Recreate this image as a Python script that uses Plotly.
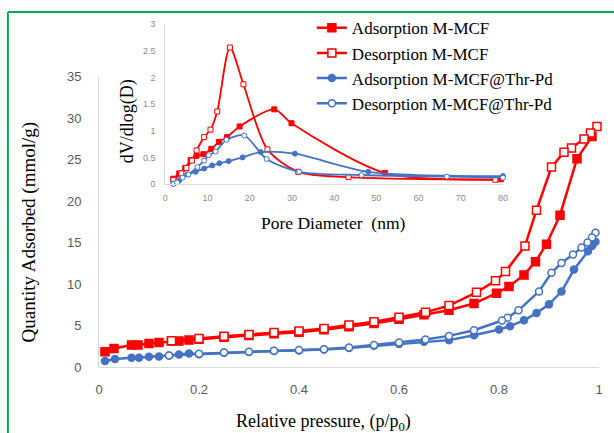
import plotly.graph_objects as go

# ---- Isotherm data: relative pressure (p/p0) vs quantity adsorbed (mmol/g) ----
p_ads_mcf = [0.012, 0.03, 0.065, 0.078, 0.10, 0.12, 0.145, 0.16, 0.18, 0.20, 0.25, 0.30, 0.35,
             0.40, 0.45, 0.50, 0.55, 0.60, 0.65, 0.70, 0.75, 0.795, 0.82, 0.85, 0.873, 0.895,
             0.922, 0.956, 0.986]
q_ads_mcf = [1.83, 2.24, 2.64, 2.64, 2.84, 2.96, 3.12, 3.12, 3.24, 3.35, 3.6, 3.8, 4.0,
             4.2, 4.5, 4.85, 5.25, 5.76, 6.3, 6.85, 7.65, 8.9, 9.7, 11.1, 12.7, 14.8,
             18.3, 25.1, 27.8]

p_des_mcf = [0.996, 0.983, 0.97, 0.945, 0.93, 0.905, 0.875, 0.852, 0.813, 0.793, 0.755, 0.70,
             0.653, 0.60, 0.55, 0.50, 0.45, 0.40, 0.35, 0.30, 0.25, 0.20, 0.145]
q_des_mcf = [29.0, 28.2, 27.5, 26.4, 25.9, 24.1, 18.9, 14.6, 11.5, 10.4, 9.0, 7.4,
             6.6, 6.0, 5.45, 5.05, 4.65, 4.35, 4.15, 3.92, 3.72, 3.44, 3.15]

p_ads_pd = [0.012, 0.032, 0.065, 0.08, 0.10, 0.12, 0.14, 0.16, 0.18, 0.20, 0.25, 0.30, 0.35,
            0.40, 0.45, 0.50, 0.55, 0.60, 0.65, 0.70, 0.75, 0.80, 0.822, 0.85, 0.875, 0.90,
            0.925, 0.95, 0.978, 0.986, 0.993]
q_ads_pd = [0.72, 0.96, 1.12, 1.12, 1.24, 1.28, 1.38, 1.52, 1.64, 1.55, 1.72, 1.8, 1.92,
            2.0, 2.12, 2.3, 2.55, 2.76, 3.04, 3.24, 3.84, 4.52, 4.92, 5.63, 6.5, 7.55,
            9.1, 11.75, 13.95, 14.6, 15.1]

p_des_pd = [0.993, 0.986, 0.977, 0.965, 0.948, 0.925, 0.905, 0.88, 0.839, 0.817, 0.806, 0.75,
            0.70, 0.653, 0.60, 0.55, 0.50, 0.45, 0.40, 0.35, 0.30, 0.25, 0.20, 0.14]
q_des_pd = [16.2, 15.6, 15.0, 14.4, 13.55, 12.55, 11.35, 9.1, 6.83, 5.95, 5.6, 4.44,
            3.75, 3.32, 2.96, 2.64, 2.36, 2.14, 2.04, 1.96, 1.84, 1.76, 1.6, 1.4]

# ---- Pore size distribution: pore diameter (nm) vs dV/dlog(D) ----
d_ads_mcf = [1.9, 3.3, 4.7, 6.0, 7.4, 9.0, 10.9, 12.7, 14.6, 17.6, 25.8, 29.9, 52.0, 79.5]
v_ads_mcf = [0.10, 0.20, 0.30, 0.45, 0.53, 0.56, 0.66, 0.79, 0.88, 1.08, 1.40, 1.14, 0.21, 0.09]

d_des_mcf = [1.9, 3.8, 5.0, 6.3, 7.4, 9.2, 10.7, 12.3, 15.3, 18.5, 24.2, 31.5, 43.4, 78.2]
v_des_mcf = [0.08, 0.20, 0.30, 0.44, 0.63, 0.88, 1.02, 1.36, 2.56, 1.87, 0.65, 0.23, 0.13, 0.08]

d_ads_pd = [1.9, 3.3, 5.2, 7.2, 9.2, 11.1, 12.8, 15.0, 18.3, 22.6, 30.7, 48.1, 80.0]
v_ads_pd = [0.01, 0.07, 0.18, 0.23, 0.29, 0.35, 0.39, 0.43, 0.50, 0.60, 0.57, 0.23, 0.15]

d_des_pd = [1.9, 2.8, 4.1, 5.5, 7.6, 9.2, 10.3, 11.9, 14.5, 18.7, 24.0, 31.7, 46.5, 66.7, 80.0]
v_des_pd = [0.0, 0.03, 0.12, 0.18, 0.32, 0.44, 0.54, 0.61, 0.83, 0.91, 0.47, 0.23, 0.17, 0.14, 0.12]

# ---- Axis ticks ----
x_ticks = [0, 0.2, 0.4, 0.6, 0.8, 1]
x_tick_text = ["0", "0.2", "0.4", "0.6", "0.8", "1"]
y_ticks = [0, 5, 10, 15, 20, 25, 30, 35]
inset_x_ticks = [0, 10, 20, 30, 40, 50, 60, 70, 80]
inset_y_ticks = [0, 0.5, 1, 1.5, 2, 2.5, 3]
inset_y_text = ["0", "0.5", "1", "1.5", "2", "2.5", "3"]

series_names = ["Adsorption M-MCF", "Desorption M-MCF",
                "Adsorption M-MCF@Thr-Pd", "Desorption M-MCF@Thr-Pd"]

RED = "#ff0000"
BLUE = "#4472c4"
SERIF = "Liberation Serif"
SANS = "Liberation Sans"

# Plot-area geometry in page pixels
LEFT, RIGHT, TOP, BOTTOM = 99, 10, 22, 66
PLOT_W = 614 - LEFT - RIGHT
PLOT_H = 433 - TOP - BOTTOM
Y0_PX = 433 - BOTTOM

fig = go.Figure()

main_styles = [
    (p_ads_mcf, q_ads_mcf, RED, "square", RED, 8),
    (p_des_mcf, q_des_mcf, RED, "square", "white", 8),
    (p_ads_pd, q_ads_pd, BLUE, "circle", BLUE, 7),
    (p_des_pd, q_des_pd, BLUE, "circle", "white", 7),
]
for name, (xs, ys, col, sym, fill, size) in zip(series_names, main_styles):
    fig.add_trace(go.Scatter(
        x=xs, y=ys, name=name, mode="lines+markers",
        line=dict(color=col, width=2.5),
        marker=dict(symbol=sym, size=size, color=fill, line=dict(color=col, width=1.5)),
        xaxis="x", yaxis="y", showlegend=True, cliponaxis=False,
    ))

inset_styles = [
    (d_ads_mcf, v_ads_mcf, RED, "square", RED),
    (d_des_mcf, v_des_mcf, RED, "square", "white"),
    (d_ads_pd, v_ads_pd, BLUE, "circle", BLUE),
    (d_des_pd, v_des_pd, BLUE, "circle", "white"),
]
for name, (xs, ys, col, sym, fill) in zip(series_names, inset_styles):
    fig.add_trace(go.Scatter(
        x=xs, y=ys, name=name, mode="lines+markers",
        line=dict(color=col, width=1.8, shape="spline", smoothing=0.8),
        marker=dict(symbol=sym, size=5, color=fill, line=dict(color=col, width=1)),
        xaxis="x2", yaxis="y2", showlegend=False, cliponaxis=False,
    ))

px_x = lambda px: (px - LEFT) / PLOT_W
px_y = lambda py: (Y0_PX - py) / PLOT_H

axis_gray = "#d9d9d9"
tick_font = dict(family=SANS, size=13, color="#595959")
inset_tick_font = dict(family=SANS, size=9, color="#8c8c8c")

fig.update_layout(
    width=614, height=433,
    margin=dict(l=LEFT, r=RIGHT, t=TOP, b=BOTTOM),
    paper_bgcolor="white", plot_bgcolor="rgba(0,0,0,0)",
    showlegend=True,
    legend=dict(x=px_x(314), y=1.04, xanchor="left", yanchor="top",
                font=dict(family=SERIF, size=17, color="black"),
                bgcolor="rgba(0,0,0,0)", tracegroupgap=0),
    xaxis=dict(domain=[0, 1], range=[0, 1], tickvals=x_ticks, ticktext=x_tick_text,
               showgrid=False, zeroline=False, showline=True, linecolor=axis_gray,
               linewidth=1, ticks="", tickfont=tick_font, ticklabelstandoff=10,
               anchor="y"),
    yaxis=dict(domain=[0, px_y(75)], range=[0, 35], tickvals=y_ticks,
               showgrid=False, zeroline=False, showline=True, linecolor=axis_gray,
               linewidth=1, ticks="", tickfont=tick_font, ticklabelstandoff=14,
               anchor="x"),
    xaxis2=dict(domain=[px_x(166), px_x(507)], range=[0, 80], tickvals=inset_x_ticks,
                showgrid=False, zeroline=False, showline=True, linecolor=axis_gray,
                linewidth=1, ticks="", tickfont=inset_tick_font, ticklabelstandoff=5,
                anchor="y2"),
    yaxis2=dict(domain=[px_y(183), 1.0], range=[0, 3], tickvals=inset_y_ticks,
                ticktext=inset_y_text,
                showgrid=False, zeroline=False, showline=True, linecolor=axis_gray,
                linewidth=1, ticks="", tickfont=inset_tick_font, ticklabelstandoff=7,
                anchor="x2"),
)

# Axis titles
fig.add_annotation(text="Relative pressure, (p/p<sub>0</sub>)", xref="paper", yref="paper",
                   x=px_x(326), y=px_y(423), xanchor="center", yanchor="middle",
                   showarrow=False, font=dict(family=SERIF, size=18, color="black"))
fig.add_annotation(text="Quantity Adsorbed (mmol/g)", xref="paper", yref="paper",
                   x=px_x(28), y=px_y(231), xanchor="center", yanchor="middle",
                   showarrow=False, textangle=-90,
                   font=dict(family=SERIF, size=19, color="black"))
fig.add_annotation(text="dV/dlog(D)", xref="paper", yref="paper",
                   x=px_x(128), y=px_y(120), xanchor="center", yanchor="middle",
                   showarrow=False, textangle=-90,
                   font=dict(family=SERIF, size=18, color="black"))
fig.add_annotation(text="Pore Diameter  (nm)", xref="paper", yref="paper",
                   x=px_x(335), y=px_y(222), xanchor="center", yanchor="middle",
                   showarrow=False, font=dict(family=SERIF, size=17.5, color="black"))

# Green frame around the chart (top and left edges fall inside the page)
fig.add_shape(type="line", xref="paper", yref="paper",
              x0=px_x(7), y0=px_y(10), x1=px_x(620), y1=px_y(10),
              line=dict(color="#00b050", width=2))
fig.add_shape(type="line", xref="paper", yref="paper",
              x0=px_x(7), y0=px_y(10), x1=px_x(7), y1=px_y(440),
              line=dict(color="#00b050", width=2))

fig.write_html("out.html")
